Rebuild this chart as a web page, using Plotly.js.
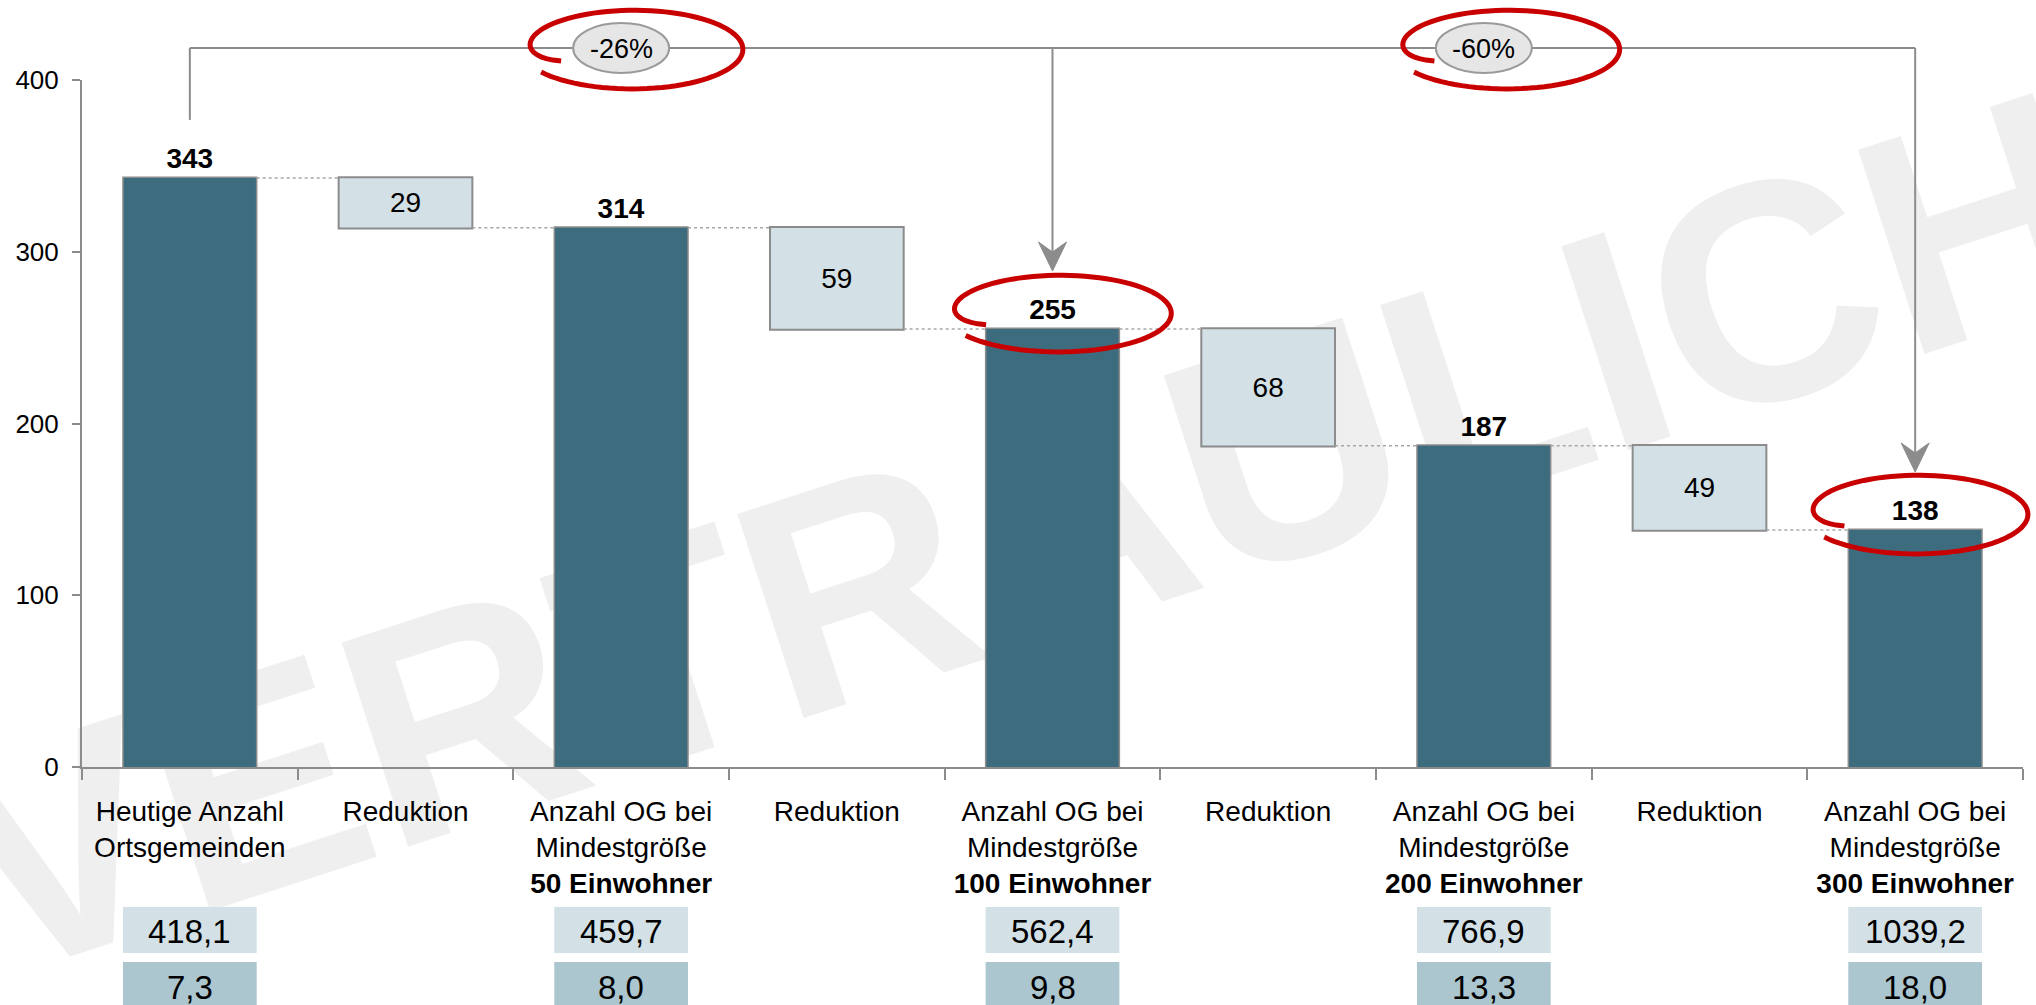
<!DOCTYPE html>
<html><head><meta charset="utf-8">
<script src="https://cdn.plot.ly/plotly-3.0.1.min.js"></script>
<style>html,body{margin:0;padding:0;background:#fff;} #chart{width:2036px;height:1005px;}</style>
</head><body><div id="chart"></div>
<script>
// ---------------- data ----------------
const categoryLabels = [
  "Heutige Anzahl<br>Ortsgemeinden",
  "Reduktion",
  "Anzahl OG bei<br>Mindestgröße<br><b>50 Einwohner</b>",
  "Reduktion",
  "Anzahl OG bei<br>Mindestgröße<br><b>100 Einwohner</b>",
  "Reduktion",
  "Anzahl OG bei<br>Mindestgröße<br><b>200 Einwohner</b>",
  "Reduktion",
  "Anzahl OG bei<br>Mindestgröße<br><b>300 Einwohner</b>"
];
const levels = [343, 314, 255, 187, 138];
const reductions = [29, 59, 68, 49];
const tableRow1 = [418.1, 459.7, 562.4, 766.9, 1039.2];
const tableRow2 = [7.3, 8.0, 9.8, 13.3, 18.0];
const yTickVals = [0, 100, 200, 300, 400];
const watermarkText = "VERTRAULICH";

// ---------------- styles ----------------
const FONT = 'Arial, "Liberation Sans", sans-serif';
const GRAY = '#8c8c8c';
const DARK = '#3e6c7f';
const LIGHT = '#d3e0e6';
const ROW2 = '#abc6cf';
const RED = '#c80000';

// ---------------- build waterfall ----------------
const ids = categoryLabels.map((_, i) => 'k' + i);
const measure = [], yVals = [], txt = [], tpos = [], ttpl = [], levelIdx = [];
levels.forEach((lv, j) => {
  levelIdx.push(measure.length);
  measure.push('absolute'); yVals.push(lv); txt.push(String(lv));
  tpos.push('outside'); ttpl.push('<b>%{text}</b>');
  if (j < reductions.length) {
    measure.push('relative'); yVals.push(-reductions[j]); txt.push(String(reductions[j]));
    tpos.push('inside'); ttpl.push('%{text}');
  }
});

const trace = {
  type: 'waterfall', x: ids, y: yVals, measure: measure,
  text: txt, texttemplate: ttpl, textposition: tpos,
  width: 0.62,
  textfont: {family: FONT, size: 28, color: '#000'},
  insidetextfont: {family: FONT, size: 28, color: '#000'},
  outsidetextfont: {family: FONT, size: 28, color: '#000'},
  insidetextanchor: 'middle', constraintext: 'none', cliponaxis: false,
  decreasing: {marker: {color: LIGHT, line: {color: GRAY, width: 2}}},
  increasing: {marker: {color: LIGHT, line: {color: GRAY, width: 2}}},
  totals: {marker: {color: DARK, line: {color: GRAY, width: 1.5}}},
  connector: {mode: 'between', line: {color: '#a6a6a6', width: 1.5, dash: 'dot'}},
  hoverinfo: 'skip', showlegend: false
};

// ---------------- geometry helpers (for decorations) ----------------
const W = 2036, H = 1005;
const M = {l: 82, r: 13, t: 80, b: 238};
const PW = W - M.l - M.r, PH = H - M.t - M.b;
const nCat = categoryLabels.length;
const yMax = yTickVals[yTickVals.length - 1];
const catPx = i => M.l + (i + 0.5) * PW / nCat;
const valPx = v => M.t + PH * (1 - v / yMax);
const px2x = px => (px - M.l) / PW;
const px2y = py => (M.t + PH - py) / PH;

const shapes = [], annotations = [];

// watermark (below the bars)
shapes.push({
  type: 'rect', xref: 'paper', yref: 'paper', layer: 'below',
  x0: px2x(1012), x1: px2x(1014), y0: px2y(506), y1: px2y(504),
  line: {width: 0}, fillcolor: 'rgba(0,0,0,0)',
  label: {text: '<b>' + watermarkText + '</b>', textangle: -18, textposition: 'middle center',
          font: {family: FONT, size: 312, color: '#efefef'}}
});

// bracket with arrows
const topPx = 48, lift = 58;
const first = levelIdx[0], mid = levelIdx[2], last = levelIdx[4];
const lineStyle = {color: GRAY, width: 2};
function pline(x0, y0, x1, y1) {
  shapes.push({type: 'line', xref: 'paper', yref: 'paper', layer: 'above',
    x0: px2x(x0), y0: px2y(y0), x1: px2x(x1), y1: px2y(y1), line: lineStyle});
}
pline(catPx(first), valPx(levels[0]) - lift, catPx(first), topPx);
pline(catPx(first), topPx, catPx(last), topPx);
function arrowDown(i, lv) {
  const x = catPx(i), tip = valPx(lv) - lift;
  pline(x, topPx, x, tip - 16);
  const p = [[x, tip], [x - 14, tip - 29], [x, tip - 19], [x + 14, tip - 29]];
  shapes.push({type: 'path', xref: 'paper', yref: 'paper', layer: 'above',
    path: 'M' + p.map(q => px2x(q[0]) + ',' + px2y(q[1])).join('L') + 'Z',
    fillcolor: GRAY, line: {color: GRAY, width: 1}});
}
arrowDown(mid, levels[2]);
arrowDown(last, levels[4]);

// percentage ovals
const pct = (a, b) => Math.round((b / a - 1) * 100) + '%';
const ovals = [
  {i: levelIdx[1], label: pct(levels[0], levels[2])},
  {i: levelIdx[3], label: pct(levels[0], levels[4])}
];
ovals.forEach(o => {
  const cx = catPx(o.i);
  shapes.push({type: 'circle', xref: 'paper', yref: 'paper', layer: 'above',
    x0: px2x(cx - 48), x1: px2x(cx + 48), y0: px2y(topPx + 25), y1: px2y(topPx - 25),
    fillcolor: '#e6e6e6', line: {color: '#9a9a9a', width: 2}});
  annotations.push({xref: 'paper', yref: 'paper', x: px2x(cx), y: px2y(topPx + 1),
    text: o.label, showarrow: false, xanchor: 'center', yanchor: 'middle',
    font: {family: FONT, size: 27, color: '#000'}});
});

// red hand-drawn loops
function redLoop(cx, cy, rx, ry) {
  const pts = [];
  const th0 = 155 * Math.PI / 180, th1 = 505 * Math.PI / 180, N = 90;
  for (let k = 0; k <= N; k++) {
    const t = k / N, th = th0 + t * (th1 - th0);
    const s = 1.0 + 0.06 * t - 0.25 * Math.exp(-t * 25);
    pts.push([cx + rx * s * Math.cos(th), cy + ry * s * Math.sin(th)]);
  }
  shapes.push({type: 'path', xref: 'paper', yref: 'paper', layer: 'above',
    path: 'M' + pts.map(q => px2x(q[0]).toFixed(5) + ',' + px2y(q[1]).toFixed(5)).join('L'),
    line: {color: RED, width: 5}});
}
redLoop(catPx(levelIdx[1]) + 12, topPx + 1, 106, 38);
redLoop(catPx(levelIdx[3]) + 24, topPx + 1, 108, 38);
redLoop(catPx(levelIdx[2]) + 7, valPx(levels[2]) - 16, 108, 37);
redLoop(catPx(levelIdx[4]) + 2, valPx(levels[4]) - 16, 107, 38);

// bottom table
const fmt = v => v.toFixed(1).replace('.', ',');
levelIdx.forEach((ci, j) => {
  shapes.push({type: 'rect', xref: 'x', yref: 'paper', layer: 'above',
    x0: ci - 0.31, x1: ci + 0.31, y0: px2y(953), y1: px2y(907),
    fillcolor: LIGHT, line: {width: 0}});
  shapes.push({type: 'rect', xref: 'x', yref: 'paper', layer: 'above',
    x0: ci - 0.31, x1: ci + 0.31, y0: px2y(1012), y1: px2y(962),
    fillcolor: ROW2, line: {width: 0}});
  annotations.push({xref: 'x', yref: 'paper', x: ci, y: px2y(931), text: fmt(tableRow1[j]),
    showarrow: false, xanchor: 'center', yanchor: 'middle', font: {family: FONT, size: 33, color: '#000'}});
  annotations.push({xref: 'x', yref: 'paper', x: ci, y: px2y(987), text: fmt(tableRow2[j]),
    showarrow: false, xanchor: 'center', yanchor: 'middle', font: {family: FONT, size: 33, color: '#000'}});
});

const layout = {
  width: W, height: H, autosize: false,
  margin: {l: M.l, r: M.r, t: M.t, b: M.b, pad: 0},
  paper_bgcolor: '#ffffff', plot_bgcolor: 'rgba(0,0,0,0)',
  font: {family: FONT, size: 26, color: '#000'},
  showlegend: false,
  xaxis: {type: 'category', tickmode: 'array', tickvals: ids, ticktext: categoryLabels,
    tickson: 'boundaries', ticks: 'outside', ticklen: 11, tickwidth: 2, tickcolor: GRAY,
    showline: true, linecolor: GRAY, linewidth: 2, showgrid: false, zeroline: false,
    range: [-0.5, nCat - 0.5], tickfont: {family: FONT, size: 28, color: '#000'},
    ticklabelstandoff: 18, fixedrange: true},
  yaxis: {range: [0, yMax], tickmode: 'array', tickvals: yTickVals, ticks: 'outside', ticklen: 8,
    tickwidth: 2, tickcolor: GRAY, showline: true, linecolor: GRAY, linewidth: 2,
    showgrid: false, zeroline: false, tickfont: {family: FONT, size: 26, color: '#000'},
    ticklabelstandoff: 8, fixedrange: true},
  shapes: shapes, annotations: annotations
};

Plotly.newPlot('chart', [trace], layout, {displayModeBar: false, staticPlot: true});
</script>
</body></html>
